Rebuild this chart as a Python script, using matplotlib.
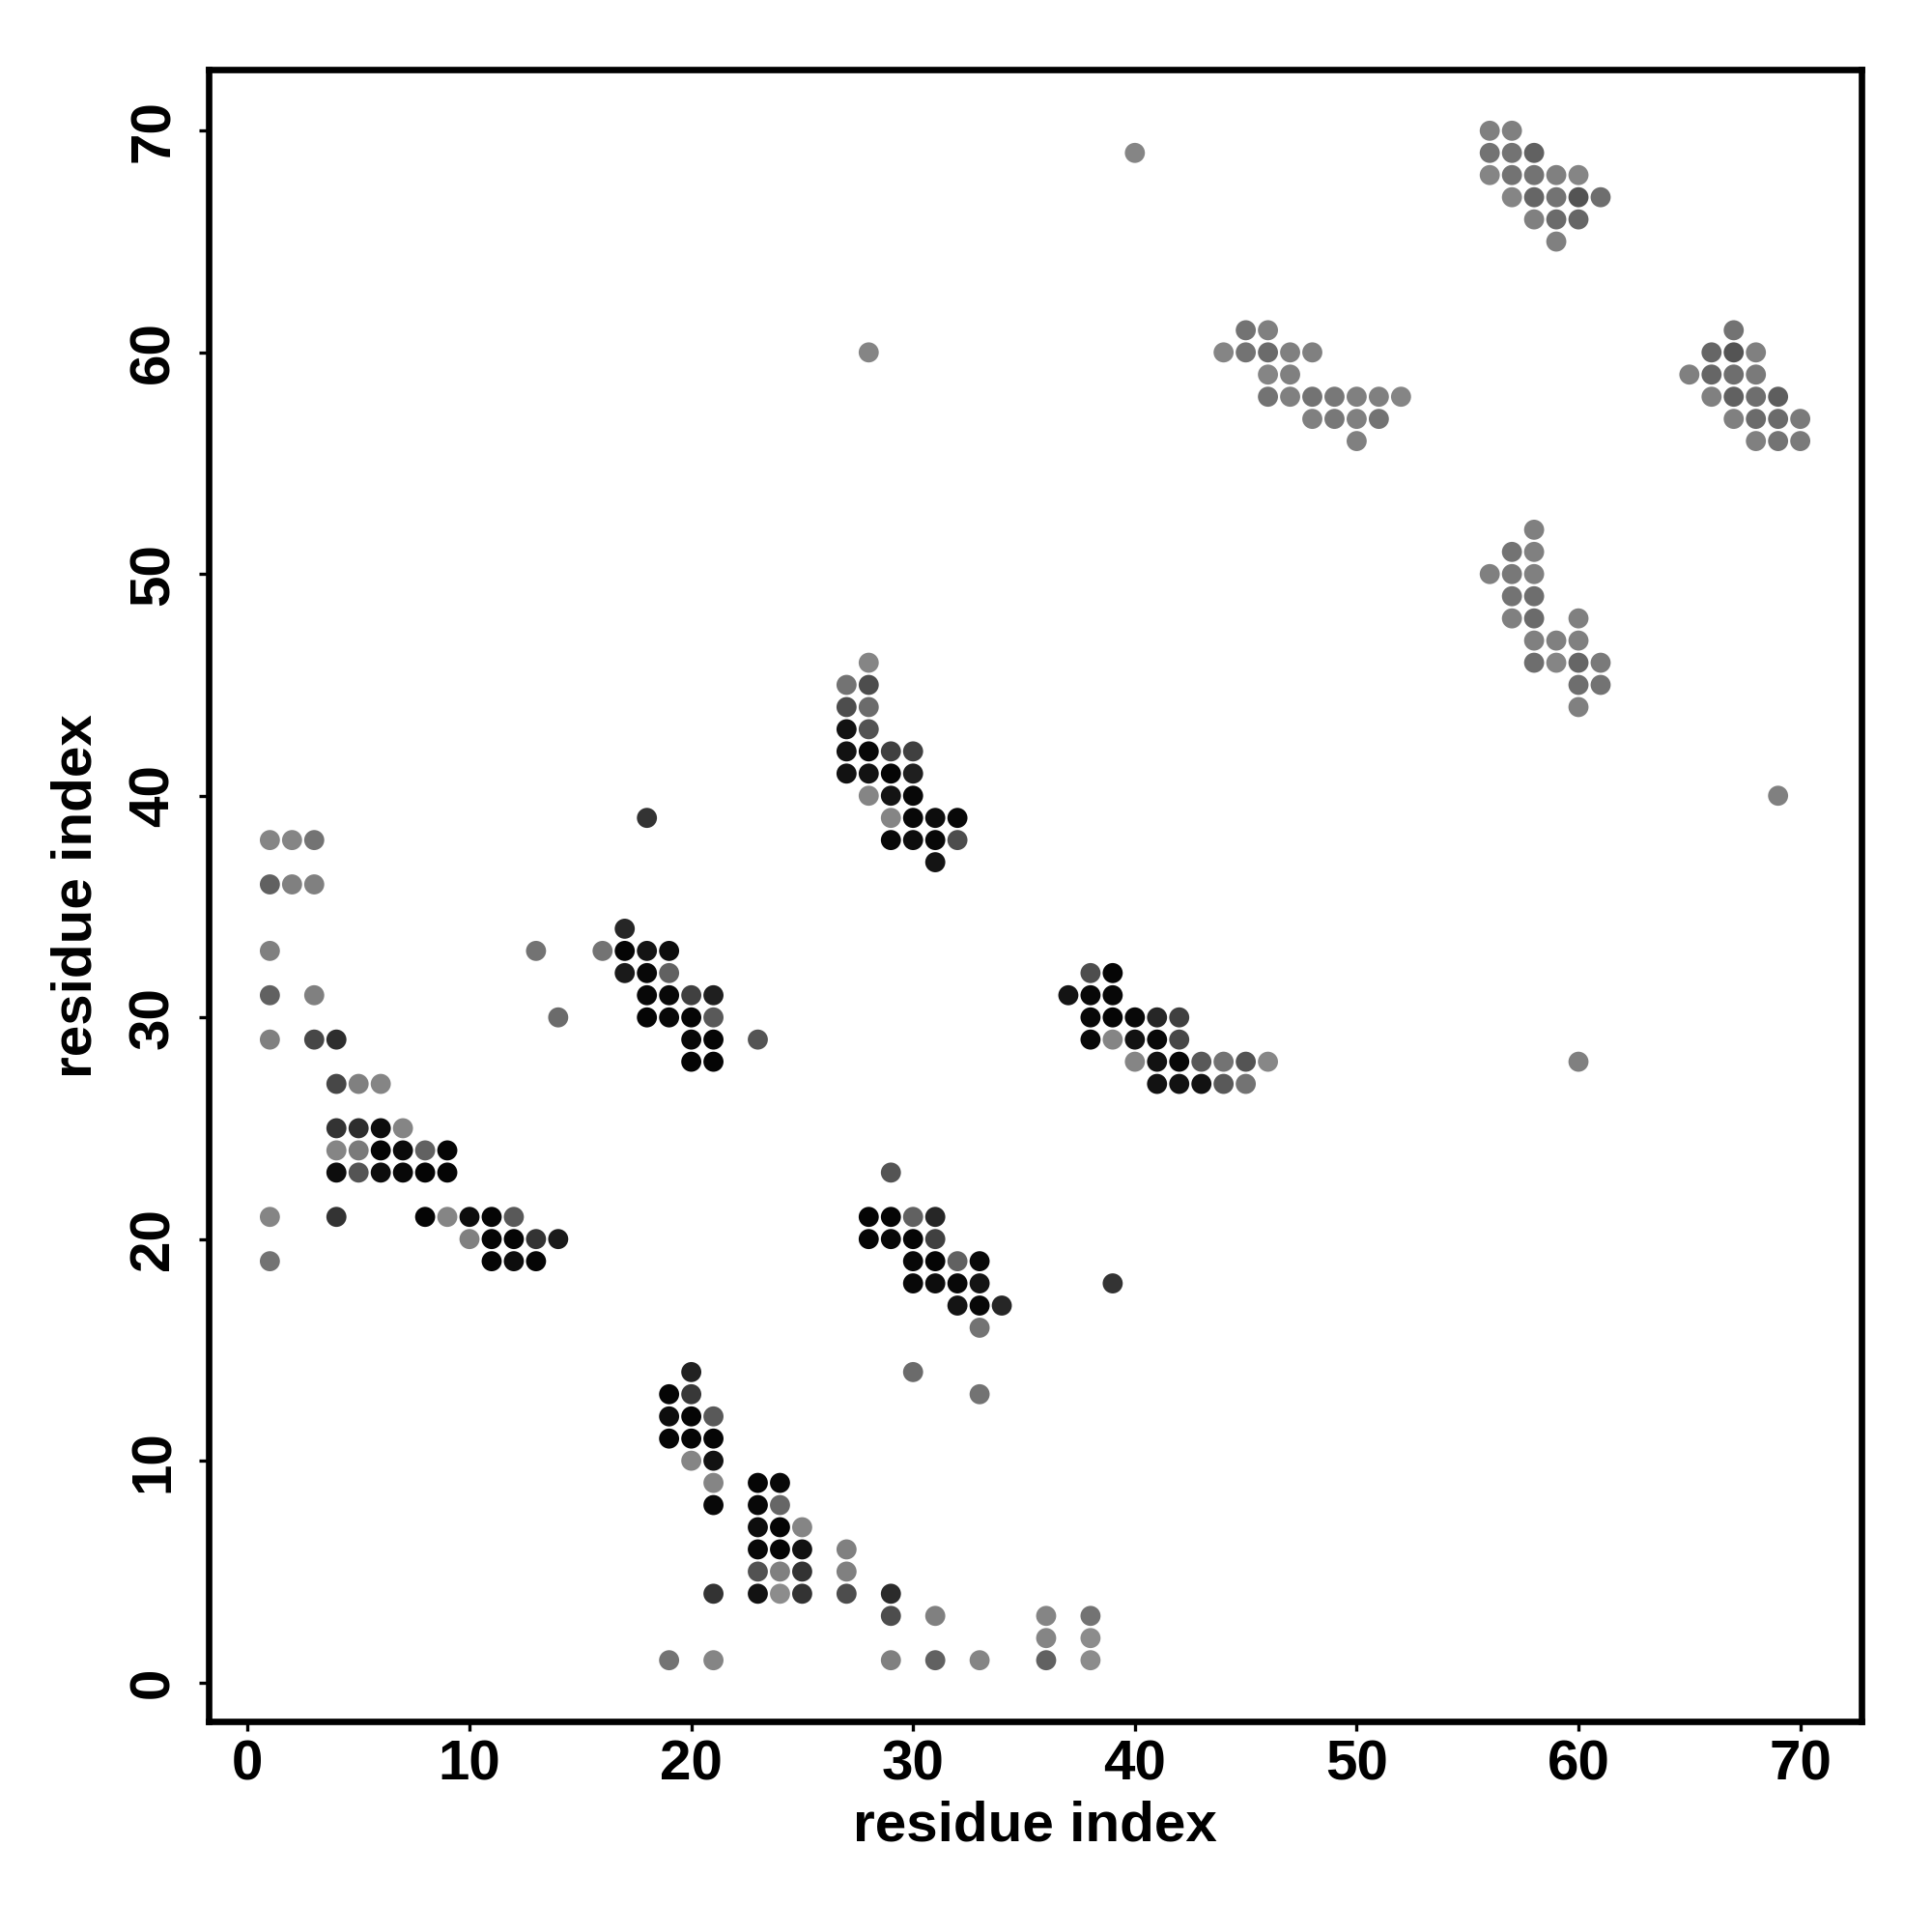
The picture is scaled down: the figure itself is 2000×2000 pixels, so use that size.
import numpy as np
import matplotlib.pyplot as plt

# contacts as (i, j, grey) ; grey 0 = black, ~0.55 = light grey
helix_a = [
    (1, 38, .52), (2, 38, .52), (3, 38, .45),
    (1, 36, .38), (2, 36, .50), (3, 36, .50),
    (1, 33, .50), (13, 33, .45),
    (1, 31, .38), (3, 31, .50),
    (14, 30, .42),
    (1, 29, .50), (3, 29, .28), (4, 29, .18),
    (4, 27, .28), (5, 27, .50), (6, 27, .52),
    (4, 25, .20), (5, 25, .18), (6, 25, .05), (7, 25, .52),
    (4, 24, .52), (5, 24, .48), (6, 24, .02), (7, 24, .04), (8, 24, .38), (9, 24, .02),
    (4, 23, .05), (5, 23, .33), (6, 23, .05), (7, 23, .03), (8, 23, .02), (9, 23, .02),
    (1, 21, .52), (4, 21, .20), (8, 21, .02), (9, 21, .52), (10, 21, .05), (11, 21, .02), (12, 21, .35),
    (10, 20, .50), (11, 20, .02), (12, 20, .02), (13, 20, .20), (14, 20, .10),
    (1, 19, .45), (11, 19, .02), (12, 19, .05), (13, 19, .02),
]

helix_b = [
    (18, 39, .20),
    (17, 34, .15),
    (16, 33, .45), (17, 33, .02), (18, 33, .08), (19, 33, .05),
    (17, 32, .10), (18, 32, .03), (19, 32, .38),
    (18, 31, .03), (19, 31, .03), (20, 31, .25), (21, 31, .12),
    (18, 30, .02), (19, 30, .03), (20, 30, .02), (21, 30, .35),
    (20, 29, .03), (21, 29, .02), (23, 29, .33),
    (20, 28, .02), (21, 28, .02),
]

helix_c = [
    (28, 46, .52),
    (27, 45, .45), (28, 45, .30),
    (27, 44, .30), (28, 44, .42),
    (27, 43, .07), (28, 43, .32),
    (27, 42, .07), (28, 42, .03), (29, 42, .25), (30, 42, .25),
    (27, 41, .07), (28, 41, .07), (29, 41, .02), (30, 41, .12),
    (28, 40, .52), (29, 40, .08), (30, 40, .03),
    (29, 39, .52), (30, 39, .03), (31, 39, .05), (32, 39, .03),
    (29, 38, .03), (30, 38, .05), (31, 38, .03), (32, 38, .30),
    (31, 37, .08),
]

helix_d = [
    (29, 23, .33),
    (28, 21, .02), (29, 21, .02), (30, 21, .38), (31, 21, .15),
    (28, 20, .02), (29, 20, .03), (30, 20, .02), (31, 20, .25),
    (30, 19, .03), (31, 19, .02), (32, 19, .38), (33, 19, .03),
    (30, 18, .03), (31, 18, .05), (32, 18, .03), (33, 18, .08),
    (32, 17, .08), (33, 17, .03), (34, 17, .15),
    (33, 16, .45),
    (30, 14, .42), (33, 13, .45),
]

helix_e = [
    (20, 14, .13),
    (19, 13, .02), (20, 13, .22),
    (19, 12, .05), (20, 12, .02), (21, 12, .35),
    (19, 11, .02), (20, 11, .02), (21, 11, .02),
    (20, 10, .52), (21, 10, .07),
    (21, 9, .52), (23, 9, .02), (24, 9, .03),
    (21, 8, .03), (23, 8, .03), (24, 8, .40),
    (23, 7, .05), (24, 7, .02), (25, 7, .52),
    (23, 6, .03), (24, 6, .02), (25, 6, .07), (27, 6, .50),
    (23, 5, .32), (24, 5, .50), (25, 5, .20), (27, 5, .50),
    (21, 4, .20), (23, 4, .07), (24, 4, .55), (25, 4, .20), (27, 4, .30), (29, 4, .17),
    (29, 3, .30), (31, 3, .50), (36, 3, .52), (38, 3, .45),
    (36, 2, .52), (38, 2, .55),
    (19, 1, .45), (21, 1, .52), (29, 1, .50), (31, 1, .38), (33, 1, .52), (36, 1, .38), (38, 1, .55),
]

helix_f = [
    (38, 32, .30), (39, 32, .02),
    (37, 31, .08), (38, 31, .03), (39, 31, .03),
    (38, 30, .03), (39, 30, .02), (40, 30, .03), (41, 30, .15), (42, 30, .25),
    (38, 29, .03), (39, 29, .52), (40, 29, .07), (41, 29, .03), (42, 29, .28),
    (40, 28, .52), (41, 28, .07), (42, 28, .03), (43, 28, .35), (44, 28, .45), (45, 28, .33), (46, 28, .53),
    (41, 27, .07), (42, 27, .07), (43, 27, .07), (44, 27, .35), (45, 27, .45),
    (39, 18, .20),
]

sheet_a = [
    (40, 69, .52), (28, 60, .52),
    (45, 61, .45), (46, 61, .50),
    (44, 60, .52), (45, 60, .45), (46, 60, .42), (47, 60, .50), (48, 60, .50),
    (46, 59, .52), (47, 59, .50),
    (46, 58, .45), (47, 58, .50), (48, 58, .45), (49, 58, .47), (50, 58, .50), (51, 58, .50), (52, 58, .52),
    (48, 57, .50), (49, 57, .47), (50, 57, .50), (51, 57, .45),
    (50, 56, .50),
]

sheet_b = [
    (56, 70, .50), (57, 70, .50),
    (56, 69, .45), (57, 69, .45), (58, 69, .38),
    (56, 68, .52), (57, 68, .45), (58, 68, .45), (59, 68, .50), (60, 68, .52),
    (57, 67, .52), (58, 67, .40), (59, 67, .45), (60, 67, .33), (61, 67, .43),
    (58, 66, .50), (59, 66, .42), (60, 66, .40),
    (59, 65, .50),
]

sheet_c = [
    (58, 52, .50),
    (57, 51, .45), (58, 51, .50),
    (56, 50, .50), (57, 50, .47), (58, 50, .50),
    (57, 49, .45), (58, 49, .43),
    (57, 48, .50), (58, 48, .42), (60, 48, .50),
    (58, 47, .50), (59, 47, .50), (60, 47, .50),
    (58, 46, .43), (59, 46, .52), (60, 46, .40), (61, 46, .48),
    (60, 45, .43), (61, 45, .45),
    (60, 44, .50),
    (60, 28, .50), (69, 40, .50),
]

sheet_d = [
    (67, 61, .45),
    (66, 60, .40), (67, 60, .33), (68, 60, .50),
    (65, 59, .50), (66, 59, .40), (67, 59, .43), (68, 59, .48),
    (66, 58, .50), (67, 58, .38), (68, 58, .43), (69, 58, .37),
    (67, 57, .50), (68, 57, .42), (69, 57, .42), (70, 57, .48),
    (68, 56, .50), (69, 56, .45), (70, 56, .48),
]

contacts = np.array(helix_a + helix_b + helix_c + helix_d + helix_e + helix_f
                    + sheet_a + sheet_b + sheet_c + sheet_d)
xi, yj, grey = contacts[:, 0], contacts[:, 1], contacts[:, 2]
colours = [(g, g, g) for g in grey]

plt.rcParams['font.family'] = ['Liberation Sans', 'DejaVu Sans']
plt.rcParams['font.weight'] = 'bold'

fig = plt.figure(figsize=(10, 10), dpi=200)
ax = fig.add_axes([0.108, 0.109, 0.8555, 0.855])
ax.scatter(xi, yj, s=56, c=colours, edgecolors='none')

# R-style 4% padding around the data range
lo, hi = 1, 70
pad = 0.04 * (hi - lo)
ax.set_xlim(lo - pad, hi + pad)
ax.set_ylim(lo - pad, hi + pad)

ticks = np.arange(0, 71, 10)
ax.set_xticks(ticks)
ax.set_yticks(ticks)
for s in ax.spines.values():
    s.set_linewidth(2.4)
ax.tick_params(axis='both', direction='out', length=3.6, width=1.2, labelsize=21)
ax.tick_params(axis='x', pad=3)
ax.tick_params(axis='y', pad=7, labelrotation=90)
for lab in ax.get_yticklabels():
    lab.set_verticalalignment('center')

fig.text(0.5355, 1 - 1891 / 2000, 'residue index', ha='center', va='center',
         fontsize=21, fontweight='bold')
fig.text(80 / 2000, 1 - 928 / 2000, 'residue index', ha='center', va='center',
         rotation=90, fontsize=21, fontweight='bold')

plt.savefig('out.png', dpi=200)
